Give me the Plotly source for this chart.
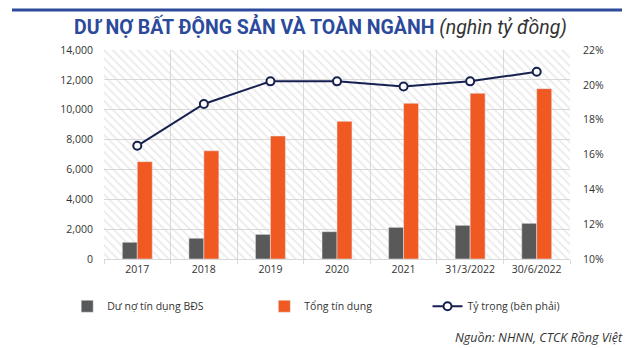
import plotly.graph_objects as go

categories = ["2017", "2018", "2019", "2020", "2021", "31/3/2022", "30/6/2022"]
bds_credit = [1120, 1390, 1650, 1830, 2120, 2255, 2390]
total_credit = [6520, 7250, 8240, 9220, 10430, 11100, 11410]
share_pct = [16.5, 18.9, 20.2, 20.2, 19.9, 20.2, 20.75]

left_ticks = [0, 2000, 4000, 6000, 8000, 10000, 12000, 14000]
right_ticks = [10, 12, 14, 16, 18, 20, 22]

W, H = 640, 348
PLOT_L, PLOT_R, PLOT_T, PLOT_B = 104, 570, 50, 259

def fx(p):
    return p / W

def fy(p):
    return (H - p) / H

tick_font = dict(family="Open Sans", size=10.5, color="#333333")
grid_col = "#d9d9d9"
xdom = [fx(PLOT_L), fx(PLOT_R)]
ydom = [fy(PLOT_B), fy(PLOT_T)]

fig = go.Figure()

# hatched background (transparent so gridlines show through)
fig.add_trace(go.Bar(
    x=[categories[3]], y=[1], width=[7], xaxis="x", yaxis="y",
    marker=dict(color="rgba(0,0,0,0)", line=dict(width=0),
                pattern=dict(shape="\\", fgcolor="#d6d6d6", bgcolor="rgba(0,0,0,0)", size=6, solidity=0.3)),
    showlegend=False, hoverinfo="skip",
))

fig.add_trace(go.Bar(
    x=categories, y=bds_credit, name="Dư nợ tín dụng BĐS", yaxis="y2",
    marker=dict(color="#595959"), legend="legend",
))
fig.add_trace(go.Bar(
    x=categories, y=total_credit, name="Tổng tín dụng", yaxis="y2",
    marker=dict(color="#f05a22"), legend="legend2",
))
fig.add_trace(go.Scatter(
    x=categories, y=share_pct, name="Tỷ trọng (bên phải)", yaxis="y3",
    mode="lines+markers",
    line=dict(color="#16214f", width=2),
    marker=dict(symbol="circle", size=8, color="#ffffff", line=dict(color="#16214f", width=2)),
    legend="legend3",
))

# decorative top rule on its own small axes strip
fig.add_trace(go.Scatter(
    x=[0, 1], y=[0.5, 0.5], xaxis="x4", yaxis="y4", mode="lines",
    line=dict(color="#2b4a9b", width=3), showlegend=False, hoverinfo="skip",
    cliponaxis=False,
))

leg_font = dict(family="Open Sans", size=10.5, color="#333333")
fig.update_layout(
    width=W, height=H,
    margin=dict(l=0, r=0, t=0, b=0, autoexpand=False),
    paper_bgcolor="#ffffff", plot_bgcolor="rgba(0,0,0,0)",
    barmode="group", bargap=0.55, bargroupgap=0,
    xaxis=dict(
        domain=xdom, automargin=False,
        type="category", categoryorder="array", categoryarray=categories,
        tickson="boundaries", showgrid=True, gridcolor=grid_col,
        ticks="outside", ticklen=4, tickcolor=grid_col,
        showline=True, linecolor=grid_col, linewidth=1, mirror=False,
        tickfont=tick_font, range=[-0.5, 6.5],
    ),
    yaxis=dict(domain=ydom, automargin=False, range=[0, 1], visible=False, showgrid=False, fixedrange=True),
    yaxis2=dict(
        overlaying="y", side="left", range=[0, 14000], tickvals=left_ticks, automargin=False,
        ticktext=[f"{v:,}" for v in left_ticks],
        showgrid=True, gridcolor=grid_col, zeroline=False,
        tickfont=tick_font, ticks="", ticklabelstandoff=10,
    ),
    yaxis3=dict(
        overlaying="y", side="right", range=[10, 22], tickvals=right_ticks, automargin=False,
        ticktext=[f"{v}%" for v in right_ticks], showgrid=False, zeroline=False,
        tickfont=tick_font, ticks="", ticklabelstandoff=12,
    ),
    xaxis4=dict(domain=[fx(12), fx(622)], anchor="y4", range=[0, 1], visible=False,
                fixedrange=True, automargin=False),
    yaxis4=dict(domain=[fy(16), fy(4)], anchor="x4", range=[0, 1], visible=False,
                fixedrange=True, automargin=False),
    legend=dict(orientation="h", xref="container", yref="container", x=0.105, y=0.12,
                xanchor="left", yanchor="middle", font=leg_font, bgcolor="rgba(0,0,0,0)"),
    legend2=dict(orientation="h", xref="container", yref="container", x=0.413, y=0.12,
                 xanchor="left", yanchor="middle", font=leg_font, bgcolor="rgba(0,0,0,0)"),
    legend3=dict(orientation="h", xref="container", yref="container", x=0.668, y=0.12,
                 xanchor="left", yanchor="middle", font=leg_font, bgcolor="rgba(0,0,0,0)"),
    showlegend=True,
)

fig.add_annotation(
    xref="paper", yref="paper", x=fx(320), y=fy(26), xanchor="center", yanchor="middle",
    showarrow=False,
    text="<b>DƯ NỢ BẤT ĐỘNG SẢN VÀ TOÀN NGÀNH</b> <i><span style='color:#333333;font-weight:normal'>(nghìn tỷ đồng)</span></i>",
    font=dict(family="Roboto", size=19.5, color="#2b4a9b"),
)
fig.add_annotation(
    xref="paper", yref="paper", x=fx(625), y=fy(337), xanchor="right", yanchor="middle",
    showarrow=False, text="<i>Nguồn: NHNN, CTCK Rồng Việt</i>",
    font=dict(family="Open Sans", size=12.5, color="#333333"),
)

fig.write_html("out.html")
